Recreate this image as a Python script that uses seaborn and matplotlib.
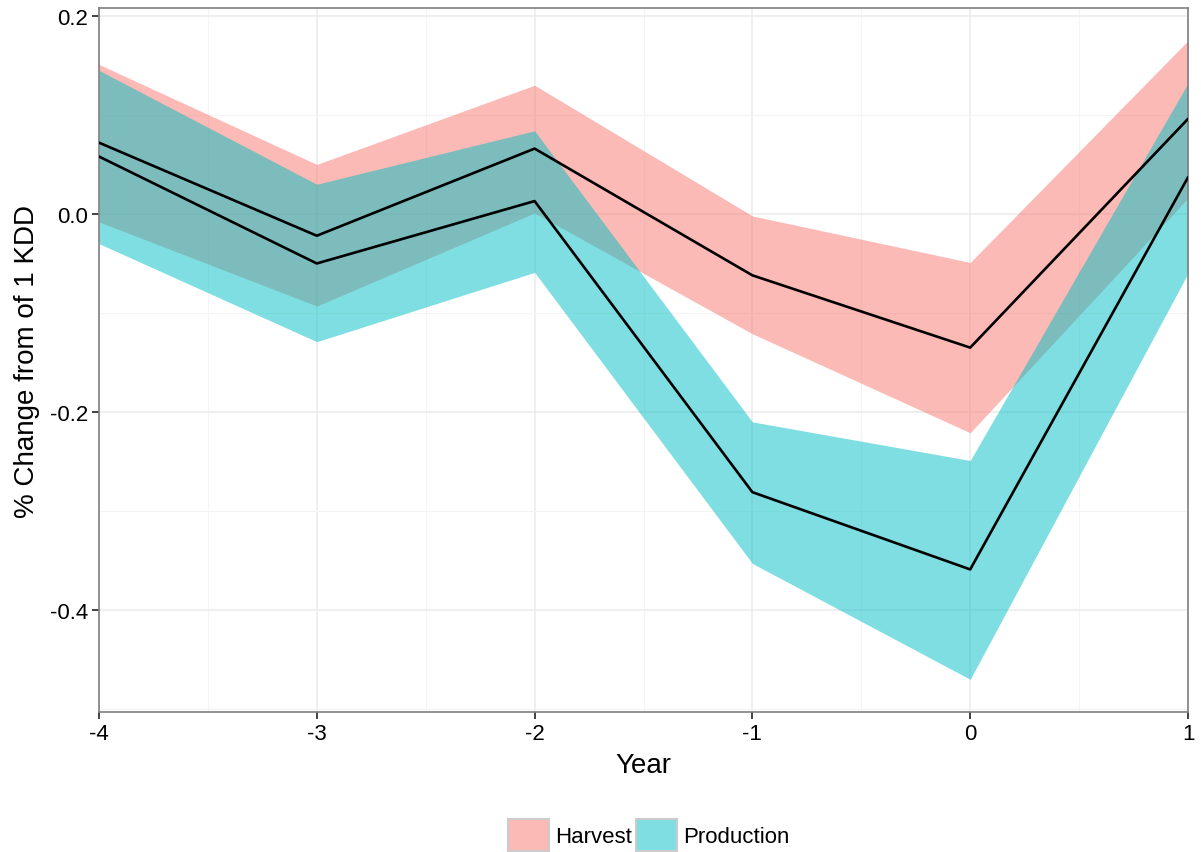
import pandas as pd
import seaborn as sns
import matplotlib.pyplot as plt
from matplotlib.patches import Patch
from matplotlib.colors import to_rgba
from matplotlib.ticker import MultipleLocator

years = [-4, -3, -2, -1, 0, 1]

harvest_mean = [0.072, -0.022, 0.066, -0.062, -0.135, 0.096]
harvest_lo = [-0.008, -0.093, 0.001, -0.121, -0.221, 0.016]
harvest_hi = [0.151, 0.050, 0.130, -0.002, -0.049, 0.175]

production_mean = [0.058, -0.050, 0.013, -0.281, -0.359, 0.037]
production_lo = [-0.030, -0.129, -0.059, -0.353, -0.470, -0.060]
production_hi = [0.145, 0.030, 0.084, -0.210, -0.249, 0.132]

groups = ['Harvest', 'Production']
colores = {'Harvest': '#F8766D', 'Production': '#00BFC4'}

df = pd.concat([
    pd.DataFrame({'Year': years, 'coef': harvest_mean, 'lo': harvest_lo, 'hi': harvest_hi, 'grupo': 'Harvest'}),
    pd.DataFrame({'Year': years, 'coef': production_mean, 'lo': production_lo, 'hi': production_hi, 'grupo': 'Production'}),
])

sns.set_style('white')
plt.rcParams['font.family'] = ['Liberation Sans', 'DejaVu Sans']
plt.rcParams['axes.unicode_minus'] = False
plt.rcParams['text.color'] = 'black'

fig = plt.figure(figsize=(12.01, 8.53), dpi=100)
ax = fig.add_axes([99/1201, 1 - 713/853, (1188 - 99)/1201, (713 - 9)/853])

# bandas de confianza
for g in groups:
    d = df[df['grupo'] == g]
    ax.fill_between(d['Year'], d['lo'], d['hi'], color=colores[g], alpha=0.5, linewidth=0, zorder=2)

# lineas de coeficientes
sns.lineplot(data=df, x='Year', y='coef', units='grupo', estimator=None, color='black',
             linewidth=1.9, ax=ax, zorder=3)

ax.set_xlim(-4, 1)
ax.set_ylim(-0.503, 0.208)
ax.xaxis.set_major_locator(MultipleLocator(1))
ax.xaxis.set_minor_locator(MultipleLocator(0.5))
ax.yaxis.set_minor_locator(MultipleLocator(0.1))
ax.set_yticks([-0.4, -0.2, 0.0, 0.2])
ax.set_yticklabels(['-0.4', '-0.2', '0.0', '0.2'])
ax.grid(which='major', color='#EBEBEB', linewidth=1.1, zorder=0)
ax.grid(which='minor', color='#F4F4F4', linewidth=0.8, zorder=0)
ax.set_axisbelow(True)
for s in ax.spines.values():
    s.set_color('#7F7F7F')
    s.set_linewidth(1.2)
ax.tick_params(which='major', direction='out', length=5, width=1.3, color='#333333',
               labelsize=16, labelcolor='black', bottom=True, left=True, pad=3)
ax.tick_params(which='minor', length=0)

ax.set_xlabel('Year', fontsize=20, labelpad=6, color='black')
ax.set_ylabel('% Change from of 1 KDD', fontsize=20, labelpad=7, color='black')

handles = [Patch(facecolor=to_rgba(colores[g], 0.5), edgecolor='#CCCCCC', linewidth=1.5) for g in groups]
fig.legend(handles, groups, loc='lower center', bbox_to_anchor=(0.54, 0.0), ncol=2, frameon=False,
           fontsize=16, handlelength=1.85, handleheight=1.85, handletextpad=0.25, columnspacing=0.2,
           borderpad=0.05, borderaxespad=0, labelcolor='black')

plt.savefig('out.png', dpi=100)
